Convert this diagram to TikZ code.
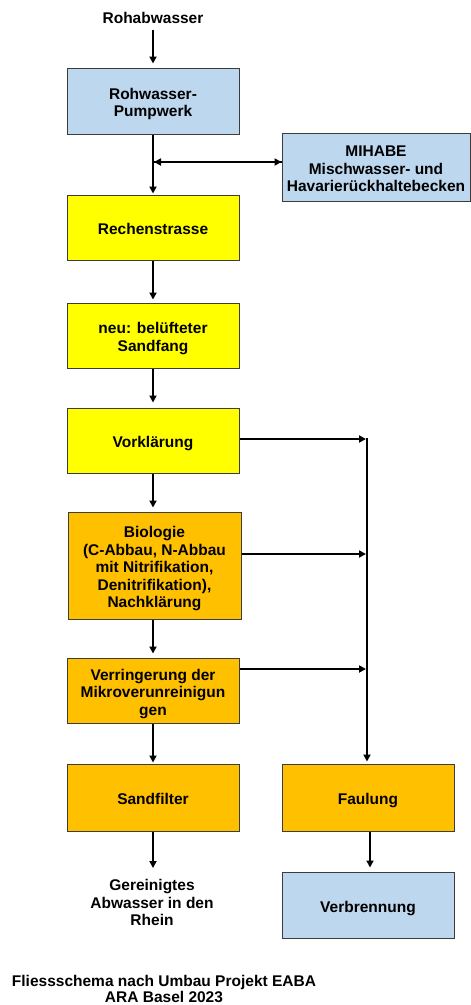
\documentclass[tikz,border=0pt]{standalone}
\usepackage{fontspec}
\setmainfont{Liberation Sans}
\usetikzlibrary{arrows.meta}
\definecolor{boxblue}{RGB}{189,215,238}
\definecolor{boxyellow}{RGB}{255,255,0}
\definecolor{boxorange}{RGB}{255,192,0}
\definecolor{boxborder}{RGB}{60,60,60}
\newcommand\tstrut{\rule{0pt}{17.5pt}}
\tikzset{
  x=1pt, y=-1pt,
  lbl/.style={font=\fontsize{15.5}{17.5}\selectfont\bfseries, align=center, inner sep=0pt,
    execute at end node={\rule[-3.5pt]{0pt}{0pt}}},
  proc/.style={lbl, draw=boxborder, line width=1pt, minimum width=172pt, minimum height=66pt},
  blueb/.style={proc, fill=boxblue},
  yellowb/.style={proc, fill=boxyellow},
  orangeb/.style={proc, fill=boxorange},
  flow/.style={line width=2pt, -{Triangle[length=7pt,width=7pt]}},
}
\begin{document}
\begin{tikzpicture}
\clip (0,0) rectangle (471,1005);
\fill[white] (0,0) rectangle (471,1005);

\node[lbl] (rohab) at (153,16) {\tstrut Rohabwasser};
\node[blueb] (pump) at (153,101) {\tstrut Rohwasser-\\Pumpwerk};
\node[blueb, minimum width=188pt, minimum height=68pt] (mihabe) at (376,167) {\tstrut MIHABE\\Mischwasser- und\\Havarierückhaltebecken};
\node[yellowb, minimum height=65pt] (rechen) at (153,227.5) {\tstrut Rechenstrasse};
\node[yellowb, minimum height=65pt] (sandfang) at (153,335.5) {\tstrut neu: belüfteter\\Sandfang};
\node[yellowb, minimum height=65pt] (vork) at (153,440.5) {\tstrut Vorklärung};
\node[orangeb, minimum width=173pt, minimum height=107pt] (bio) at (154.5,565.5) {\tstrut Biologie\\(C-Abbau, N-Abbau\\mit Nitrifikation,\\Denitrifikation),\\Nachklärung};
\node[orangeb, minimum height=65pt] (verr) at (153,690.5) {\tstrut Verringerung der\\Mikroverunreinigun\\gen};
\node[orangeb, minimum height=67pt] (sandf) at (153,797.5) {\tstrut Sandfilter};
\node[orangeb, minimum height=67pt] (faul) at (368,797.5) {\tstrut Faulung};
\node[blueb] (verbr) at (368,905) {\tstrut Verbrennung};
\node[lbl, anchor=north] (out) at (152,873) {\tstrut Gereinigtes\\Abwasser in den\\Rhein};
\node[lbl, font=\fontsize{15.5}{16}\selectfont\bfseries] (title) at (164,987) {\tstrut Fliessschema nach Umbau Projekt EABA\\ARA Basel 2023};

\coordinate (j) at (153,162);
\coordinate (b1) at (367,439);
\coordinate (b2) at (367,554);
\coordinate (b3) at (367,669);

\draw[flow] ([yshift=-3pt]rohab.south) -- ([yshift=4pt]pump.north);
\draw[flow] (pump.south) -- ([yshift=1pt]rechen.north);
\draw[flow] ([xshift=1pt]j) -- (j -| mihabe.west);
\draw[flow] (j -| mihabe.west) -- ([xshift=1pt]j);
\draw[flow] (rechen.south) -- ([yshift=3pt]sandfang.north);
\draw[flow] (sandfang.south) -- ([yshift=5pt]vork.north);
\draw[flow] (vork.south) -- ([yshift=4pt]bio.north -| vork.south);
\draw[flow] (bio.south -| vork.south) -- ([yshift=4pt]verr.north);
\draw[flow] (verr.south) -- ([yshift=1pt]sandf.north);
\draw[flow] (sandf.south) -- ([yshift=5pt]sandf.south |- out.north);
\draw[flow] (vork.east |- b1) -- ([xshift=-1pt]b1);
\draw[flow] (bio.east |- b2) -- ([xshift=-1pt]b2);
\draw[flow] (verr.east |- b3) -- ([xshift=-1pt]b3);
\draw[flow] ([yshift=1pt]b1) -- ([yshift=2pt]b1 |- faul.north);
\draw[flow] (faul.south -| 370,0) -- ([yshift=4pt]verbr.north -| 370,0);
\end{tikzpicture}
\end{document}
